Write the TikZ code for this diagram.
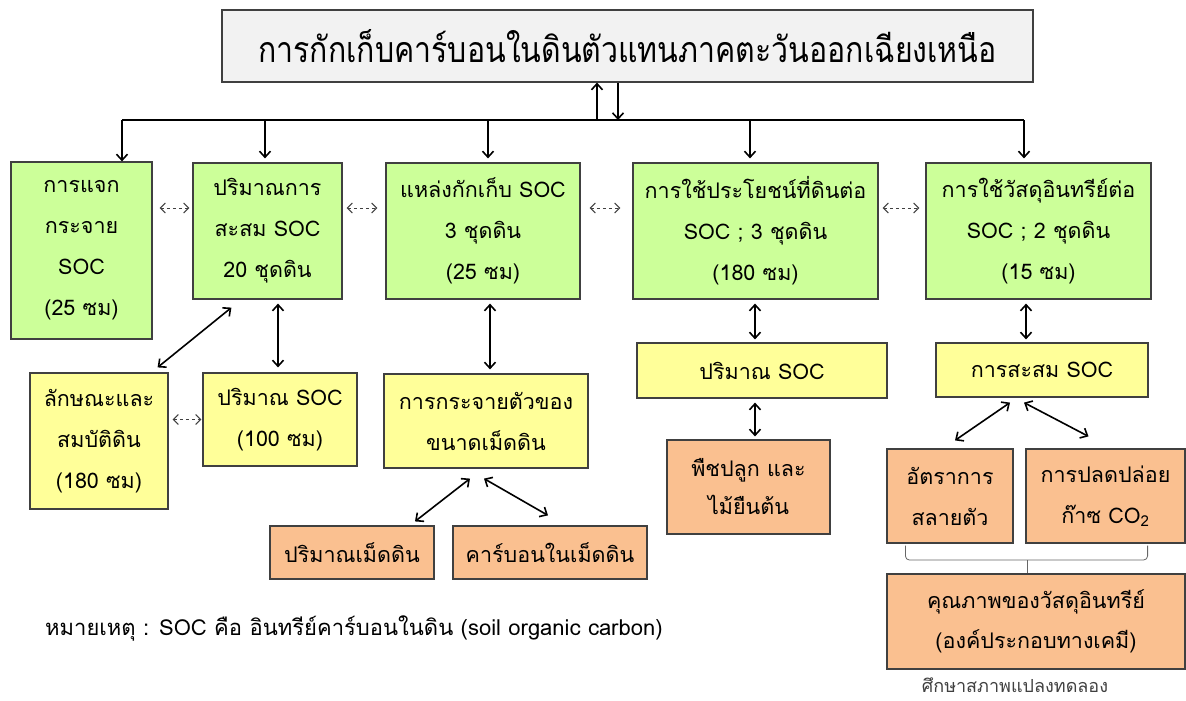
\documentclass[tikz,border=0pt]{standalone}
\usepackage{fontspec}
\setmainfont[Script=Thai]{Loma}
\usetikzlibrary{arrows.meta,calc}
\definecolor{gfill}{HTML}{CCFF99}
\definecolor{yfill}{HTML}{FFFF99}
\definecolor{ofill}{HTML}{FAC090}
\definecolor{tfill}{HTML}{F2F2F2}
\definecolor{edge}{HTML}{404040}
\begin{document}
\begin{tikzpicture}[x=1pt,y=-1pt,
  box/.style={draw=edge, line width=1.2pt, align=center, inner sep=0pt,
    font=\fontsize{21.5}{41}\selectfont},
  gbox/.style={box, fill=gfill},
  ybox/.style={box, fill=yfill},
  obox/.style={box, fill=ofill},
  sz/.style 2 args={minimum width=#1pt, minimum height=#2pt},
  arr/.style={line width=1.6pt, -{Straight Barb[length=6pt,width=11pt]}},
  darr/.style={line width=1.6pt, {Straight Barb[length=6pt,width=11pt]}-{Straight Barb[length=6pt,width=11pt]}},
  dsh/.style={line width=1pt, black!75, dash pattern=on 3.5pt off 2.5pt,
    {Straight Barb[length=5pt,width=10pt]}-{Straight Barb[length=5pt,width=10pt]}},
  brace/.style={line width=0.8pt, black!60, rounded corners=4pt},
  note/.style={inner sep=0pt, font=\fontsize{22}{24}\selectfont}
]
\useasboundingbox (0,0) rectangle (1186,701);

% title
\node[box, fill=tfill, sz={811}{72}, font=\fontsize{34}{40}\selectfont] (title) at (627.5,46)
  {\scalebox{0.89}[1.05]{การกักเก็บคาร์บอนในดินตัวแทนภาคตะวันออกเฉียงเหนือ}};

% green row
\node[gbox, sz={141}{177}] (g1) at (81.5,250.5) {การแจก\\กระจาย\\SOC\\(25 ซม)};
\node[gbox, sz={149}{136}] (g2) at (267.5,231) {ปริมาณการ\\สะสม SOC\\20 ชุดดิน};
\node[gbox, sz={194}{136}] (g3) at (483,231) {แหล่งกักเก็บ SOC\\3 ชุดดิน\\(25 ซม)};
\node[gbox, sz={245}{136}] (g4) at (755.5,231) {การใช้ประโยชน์ที่ดินต่อ\\SOC ; 3 ชุดดิน\\(180 ซม)};
\node[gbox, sz={225}{136}] (g5) at (1038.5,231) {การใช้วัสดุอินทรีย์ต่อ\\SOC ; 2 ชุดดิน\\(15 ซม)};

% yellow
\node[ybox, sz={138}{136}] (y1) at (99,441) {ลักษณะและ\\สมบัติดิน\\(180 ซม)};
\node[ybox, sz={154}{93}] (y2) at (280,419.5) {ปริมาณ SOC\\(100 ซม)};
\node[ybox, sz={204}{94}] (y3) at (486,421) {การกระจายตัวของ\\ขนาดเม็ดดิน};
\node[ybox, sz={250}{55}] (y4) at (762,370.5) {ปริมาณ SOC};
\node[ybox, sz={212}{54}] (y5) at (1042,370) {การสะสม SOC};

% orange
\node[obox, sz={164}{53}] (o1) at (352,552.5) {ปริมาณเม็ดดิน};
\node[obox, sz={194}{53}] (o2) at (550,552.5) {คาร์บอนในเม็ดดิน};
\node[obox, sz={163}{94}, font=\fontsize{21.5}{38}\selectfont] (o3) at (748.5,487) {พืชปลูก และ\\ไม้ยืนต้น};
\node[obox, sz={126}{94}] (o4) at (950,496) {อัตราการ\\สลายตัว};
\node[obox, sz={159}{94}] (o5) at (1105.5,496) {การปลดปล่อย\\ก๊าซ CO\textsubscript{2}};
\node[obox, sz={298}{95}, font=\fontsize{21.5}{40}\selectfont] (o6) at (1036,621.5) {คุณภาพของวัสดุอินทรีย์\\(องค์ประกอบทางเคมี)};

% notes
\node[note, anchor=west] (n1) at (45,628) {หมายเหตุ : SOC คือ อินทรีย์คาร์บอนในดิน (soil organic carbon)};
\node[note, font=\fontsize{18}{20}\selectfont, text=black!75] (n2) at (1015,685) {ศึกษาสภาพแปลงทดลอง};

% bar and top connectors
\coordinate (bl) at (122,120);
\coordinate (br) at (1024,120);
\coordinate (bu) at (597,120);
\coordinate (bd) at (618,120);
\draw[line width=2.6pt] (bl) -- (br);
\draw[arr] (bu) -- (bu |- title.south);
\draw[arr] (bd |- title.south) -- (bd);
\draw[arr] (bl) -- (bl |- g1.north) ;
\coordinate (b2) at (265,120);
\coordinate (b3) at (488,120);
\coordinate (b4) at (750,120);
\draw[arr, shorten >=4pt] (b2) -- (b2 |- g2.north);
\draw[arr, shorten >=4pt] (b3) -- (b3 |- g3.north);
\draw[arr, shorten >=4pt] (b4) -- (b4 |- g4.north);
\draw[arr, shorten >=4pt] (br) -- (br |- g5.north);

% dashed links
\coordinate (dy) at (0,208);
\draw[dsh, shorten <=7pt, shorten >=3pt] (g1.east |- dy) -- (g2.west |- dy);
\draw[dsh, shorten <=4pt, shorten >=8pt] (g2.east |- dy) -- (g3.west |- dy);
\draw[dsh, shorten <=9pt, shorten >=12pt] (g3.east |- dy) -- (g4.west |- dy);
\draw[dsh, shorten <=4pt, shorten >=6pt] (g4.east |- dy) -- (g5.west |- dy);
\draw[dsh, shorten <=4pt, shorten >=1pt] (y1.east |- y2.west) -- (y2.west);

% second level links
\draw[darr] ([xshift=39pt,yshift=-8pt]g2.south west) -- ([xshift=-11pt,yshift=5pt]y1.north east);
\coordinate (x2) at (278,0);
\draw[darr, shorten <=4pt, shorten >=5pt] (x2 |- g2.south) -- (x2 |- y2.north);
\coordinate (x3) at (490,0);
\draw[darr, shorten <=4pt, shorten >=4pt] (x3 |- g3.south) -- (x3 |- y3.north);
\draw[darr] ([xshift=-16pt,yshift=-10pt]y3.south) -- ([xshift=63pt,yshift=4pt]o1.north);
\draw[darr] ([xshift=-2pt,yshift=-10pt]y3.south) -- ([xshift=-2pt,yshift=10pt]o2.north);
\coordinate (x4) at (755,0);
\draw[darr, shorten <=4pt, shorten >=3pt] (x4 |- g4.south) -- (x4 |- y4.north);
\draw[darr, shorten <=4pt, shorten >=3pt] (x4 |- y4.south) -- (x4 |- o3.north);
\coordinate (x5) at (1026,0);
\draw[darr, shorten <=4pt, shorten >=3pt] (x5 |- g5.south) -- (x5 |- y5.north);
\draw[darr] ([xshift=-32pt,yshift=-5pt]y5.south) -- ([xshift=5pt,yshift=8pt]o4.north);
\draw[darr] ([xshift=-18pt,yshift=-5pt]y5.south) -- ([xshift=-17pt,yshift=12pt]o5.north);

% bracket
\coordinate (bm) at (1027,560);
\draw[brace] ([xshift=19pt,yshift=-2pt]o4.south west) |- (bm) -| ([xshift=-38pt,yshift=-2pt]o5.south east);
\draw[brace] (bm) -- (bm |- o6.north);
\end{tikzpicture}
\end{document}
